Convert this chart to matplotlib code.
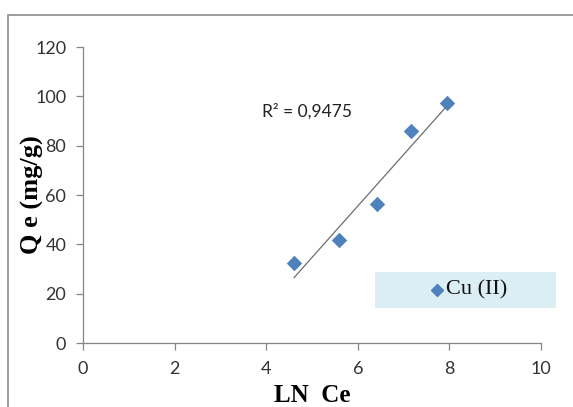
import numpy as np
import matplotlib
matplotlib.use("Agg")
import matplotlib.pyplot as plt
from matplotlib.patches import Rectangle
from matplotlib.lines import Line2D

# data
ln_ce = [4.61, 5.59, 6.42, 7.16, 7.95]
qe = [32.4, 41.8, 56.3, 85.9, 97.3]
x_ticks = [0, 2, 4, 6, 8, 10]
y_ticks = [0, 20, 40, 60, 80, 100, 120]
series_name = "Cu (II)"
r2_label = "R² = 0,9475"

fig = plt.figure(figsize=(5.73, 4.07), dpi=100)
ax = fig.add_axes([83/573, 1-343/407, (541-83)/573, (343-47)/407])

# outer chart frame (runs off the right/bottom edge like the original)
fig.patches.append(Rectangle((8/573, -0.1), 1.2, 1-15/407+0.1, transform=fig.transFigure,
                             fill=False, edgecolor="#8c8c8c", linewidth=1.2))

ax.scatter(ln_ce, qe, marker="D", s=62, color="#4f81bd", zorder=3, linewidths=0)

# linear trendline
k, b = np.polyfit(ln_ce, qe, 1)
xs = np.array([min(ln_ce), max(ln_ce)])
ax.plot(xs, k*xs + b, color="#6e6e6e", linewidth=0.9, zorder=2)

ax.text(3.9, 94, r2_label, fontsize=12.5, family="Lato", color="#222222", va="center")

ax.set_xlim(0, 10)
ax.set_ylim(0, 120)
ax.set_xticks(x_ticks)
ax.set_yticks(y_ticks)
for s in ["top", "right"]:
    ax.spines[s].set_visible(False)
for s in ["left", "bottom"]:
    ax.spines[s].set_color("#868686")
    ax.spines[s].set_linewidth(0.9)
ax.tick_params(colors="#868686", labelcolor="#333333", labelsize=13, length=5, width=0.9)
ax.tick_params(axis="y", pad=7)
ax.tick_params(axis="x", pad=8)
for lab in ax.get_xticklabels() + ax.get_yticklabels():
    lab.set_family("Lato")

ax.set_xlabel("LN  Ce", fontsize=18, fontweight="bold", family="Liberation Serif", labelpad=5)
ax.set_ylabel("Q e (mg/g)", fontsize=19, fontweight="bold", family="Liberation Serif", labelpad=-6)

# legend box
fig.patches.append(Rectangle((375/573, 1-308/407), (556-375)/573, (308-272)/407,
                             transform=fig.transFigure, facecolor="#dbeef4", edgecolor="none"))
fig.lines.append(Line2D([437/573], [1-290/407], transform=fig.transFigure, marker="D",
                        markersize=6, color="#4f81bd", linestyle="none"))
fig.text(446/573, 1-290/407, series_name, fontsize=16, family="Liberation Serif",
         va="center", ha="left", color="#111111")

fig.savefig("out.png", dpi=100)
